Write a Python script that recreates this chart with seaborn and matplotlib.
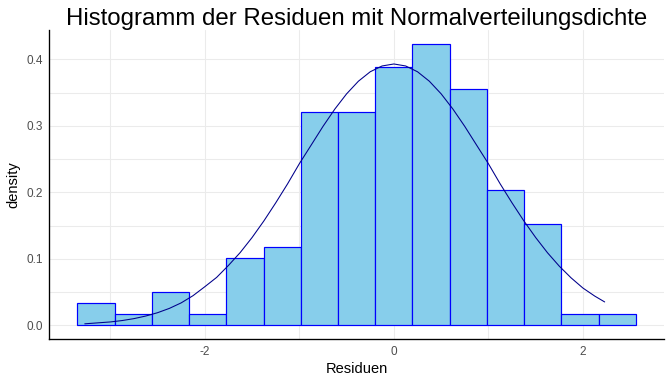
import numpy as np
import pandas as pd
import matplotlib
matplotlib.use("Agg")
import matplotlib.pyplot as plt
import seaborn as sns
from matplotlib.ticker import MultipleLocator

# Histogram bins (width ~0.394, 150 residuals)
bin_edges = [-3.349, -2.955, -2.561, -2.167, -1.773, -1.379, -0.985, -0.591,
             -0.197, 0.197, 0.591, 0.985, 1.379, 1.773, 2.167, 2.561]
bin_counts = [2, 1, 3, 1, 6, 7, 19, 19, 23, 25, 21, 12, 9, 1, 1]

# Normal density curve
curve_x = [-3.27, -3.0, -2.875, -2.75, -2.625, -2.5, -2.375, -2.25, -2.125, -2.0,
           -1.875, -1.75, -1.625, -1.5, -1.375, -1.25, -1.125, -1.0, -0.875, -0.75,
           -0.625, -0.5, -0.375, -0.25, -0.125, 0.0, 0.125, 0.25, 0.375, 0.5, 0.625,
           0.75, 0.875, 1.0, 1.125, 1.25, 1.375, 1.5, 1.625, 1.75, 1.875, 2.0, 2.125, 2.23]
curve_y = [0.0022, 0.0050, 0.0071, 0.0100, 0.0139, 0.0189, 0.0254, 0.0337, 0.0445, 0.0580,
           0.0720, 0.0900, 0.1095, 0.1320, 0.1570, 0.1841, 0.2126, 0.2430, 0.2710, 0.2991,
           0.3251, 0.3481, 0.3671, 0.3813, 0.3900, 0.3930, 0.3900, 0.3813, 0.3671, 0.3481, 0.3251,
           0.2991, 0.2710, 0.2430, 0.2126, 0.1841, 0.1570, 0.1320, 0.1091, 0.0889, 0.0713, 0.0560, 0.0439, 0.0351]

centers = [(a + b) / 2 for a, b in zip(bin_edges[:-1], bin_edges[1:])]
df = pd.DataFrame({"Residuen": centers, "n": bin_counts})
curve = pd.DataFrame({"x": curve_x, "y": curve_y})

sns.set_style("white")
plt.rcParams["font.family"] = ["Liberation Sans", "DejaVu Sans"]
plt.rcParams["axes.unicode_minus"] = False

fig = plt.figure(figsize=(7, 4), dpi=96)
ax = fig.add_axes([0.0734, 0.1164, 0.9146, 0.8046])

sns.histplot(data=df, x="Residuen", weights="n", bins=bin_edges, stat="density",
             color="skyblue", edgecolor="blue", linewidth=0.9, alpha=1, ax=ax, zorder=2)
sns.lineplot(data=curve, x="x", y="y", color="darkblue", linewidth=0.8, ax=ax, zorder=3)

ax.set_xlim(-3.645, 2.857)
ax.set_ylim(-0.0211, 0.4436)
ax.xaxis.set_major_locator(MultipleLocator(2))
ax.xaxis.set_minor_locator(MultipleLocator(1))
ax.yaxis.set_major_locator(MultipleLocator(0.1))
ax.yaxis.set_minor_locator(MultipleLocator(0.05))
ax.yaxis.set_major_formatter(matplotlib.ticker.FormatStrFormatter("%.1f"))
ax.grid(True, which="both", color="#EBEBEB", linewidth=0.8, zorder=0)
ax.set_axisbelow(True)
ax.tick_params(which="both", length=0, labelsize=8.8, labelcolor="#4D4D4D", pad=5)

for s in ["top", "right"]:
    ax.spines[s].set_visible(False)
for s in ["left", "bottom"]:
    ax.spines[s].set_color("black")
    ax.spines[s].set_linewidth(1)

ax.set_xlabel("Residuen", fontsize=11, labelpad=3, color="black")
ax.set_ylabel("density", fontsize=11, labelpad=4, color="black")
ax.set_title("Histogramm der Residuen mit Normalverteilungsdichte", fontsize=18, pad=4,
             color="black")

fig.savefig("out.png", dpi=96)
